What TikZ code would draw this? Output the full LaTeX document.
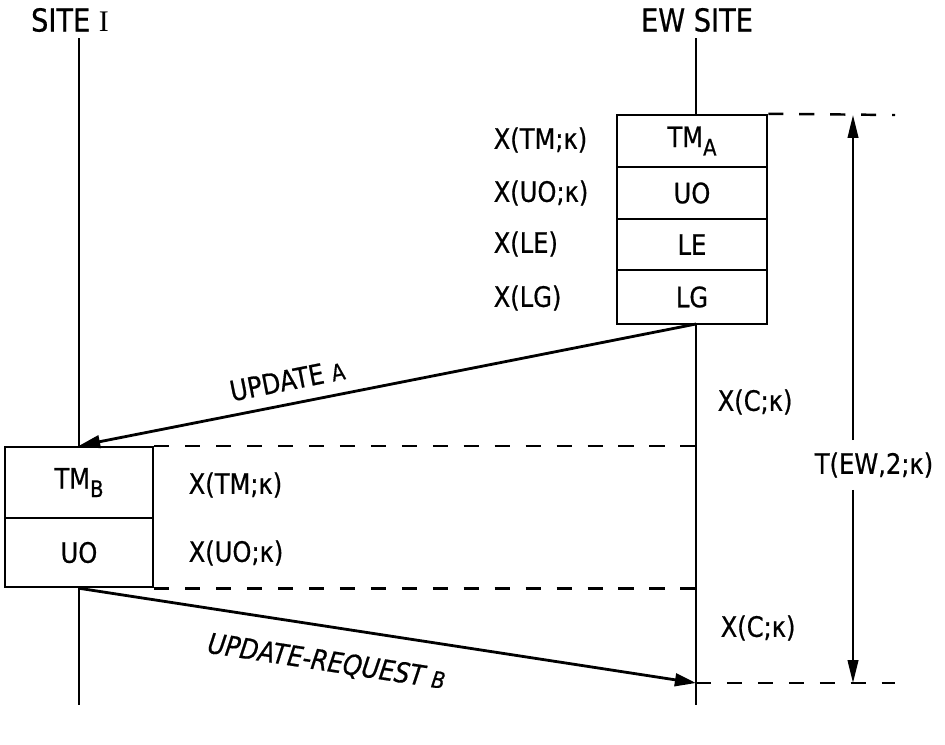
\documentclass[tikz,border=0pt]{standalone}
\usepackage{fontspec}
\setmainfont{DejaVu Sans}[FakeStretch=0.86,FakeBold=0.6]
\newfontfamily\romanI{Liberation Serif}
\usetikzlibrary{arrows.meta}
\newcommand{\lowidx}[1]{\raisebox{-0.55ex}{\fontsize{6.5}{6.5}\selectfont #1}}
\newcommand{\smallidx}[1]{{\fontsize{6.5}{6.5}\selectfont #1}}
\begin{document}
\begin{tikzpicture}[x=0.01cm,y=-0.01cm,
  font=\fontsize{8}{9}\selectfont,
  cell/.style={draw, line width=0.7pt, rectangle, inner sep=0pt},
  lbl/.style={anchor=west, inner sep=0pt},
  guide/.style={line width=0.7pt, dash pattern=on 4.3pt off 4.5pt},
  life/.style={line width=0.4pt},
  msg/.style={line width=0.8pt, -{Triangle[length=6pt,width=3.6pt]}},
  span/.style={line width=0.6pt, -{Triangle[length=6.5pt,width=3pt]}}]
\useasboundingbox (0,0) rectangle (945,744);
% site headings and lifeline ends
\node (site) at (70,20) {\fontsize{9}{10}\selectfont SITE {\romanI\fontsize{8.5}{8.5}\selectfont I}};
\node (ew) at (697,20) {\fontsize{9}{10}\selectfont EW SITE};
\coordinate (siTop) at (79,38);
\coordinate (siEnd) at (79,705);
\coordinate (ewTop) at (696,38);
\coordinate (ewOut) at (696,324);
\coordinate (ewIn) at (696,683);
\coordinate (ewEnd) at (696,705);
% EW site record
\node[cell, minimum width=1.5cm, minimum height=0.52cm] (tma) at (692,141) {TM\lowidx{A}};
\node[cell, minimum width=1.5cm, minimum height=0.52cm] (uoa) at (692,193) {UO};
\node[cell, minimum width=1.5cm, minimum height=0.51cm] (lea) at (692,244.5) {LE};
\node[cell, minimum width=1.5cm, minimum height=0.54cm] (lga) at (692,297) {LG};
\node[lbl] at (493,140) {X(TM;κ)};
\node[lbl] at (493,193) {X(UO;κ)};
\node[lbl] at (493,244) {X(LE)};
\node[lbl] at (493,298) {X(LG)};
% site i record
\node[cell, minimum width=1.48cm, minimum height=0.71cm] (tmb) at (79,482.5) {TM\lowidx{B}};
\node[cell, minimum width=1.48cm, minimum height=0.69cm] (uob) at (79,552.5) {UO};
\node[lbl] at (188,485) {X(TM;κ)};
\node[lbl] at (188,553) {X(UO;κ)};
\node[lbl] at (717,402) {X(C;κ)};
\node[lbl] at (720,628) {X(C;κ)};
% lifelines
\draw[life] (siTop) -- (tmb.north);
\draw[life] (uob.south) -- (siEnd);
\draw[life] (ewTop) -- (ewTop |- tma.north);
\draw[life] (ewOut) -- (ewEnd);
% messages
\draw[msg] (ewOut) -- node[pos=0.655, sloped, above=0.12cm, inner sep=0pt] (upd) {UPDATE \smallidx{A}} (tmb.north);
\draw[msg] (uob.south) -- node[pos=0.41, sloped, below=0.22cm, inner sep=0pt, font=\fontsize{8}{9}\selectfont\itshape] (req) {UPDATE-REQUEST \smallidx{B}} (ewIn);
% time marks
\coordinate (topEnd) at (895,115);
\coordinate (botEnd) at (895,683);
\draw[guide] (tma.north east) -- (topEnd);
\draw[guide] (tmb.north east) -- (ewTop |- tmb.north);
\draw[guide] (uob.south east) -- (ewTop |- uob.south);
\draw[guide] (ewIn) -- (botEnd);
\node (tew) at (874,465) {T(EW,2;κ)};
\coordinate (spanTop) at (853,115);
\coordinate (spanBot) at (853,683);
\draw[span] (spanTop |- tew.north) -- (spanTop);
\draw[span] (spanBot |- tew.south) -- (spanBot);
\end{tikzpicture}
\end{document}
